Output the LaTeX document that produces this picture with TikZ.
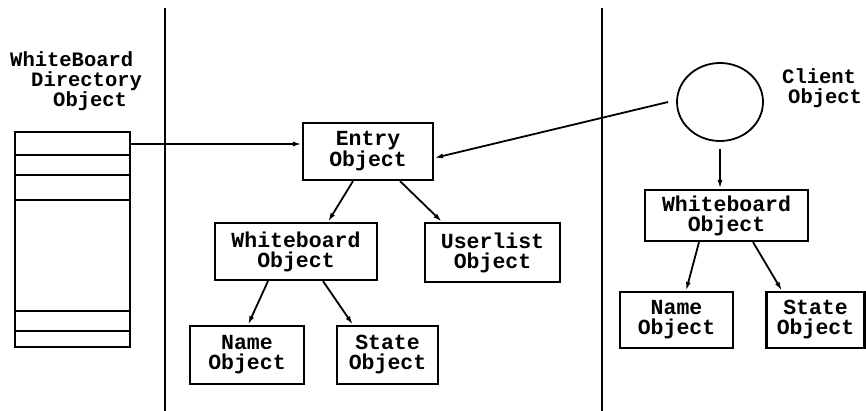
\documentclass[tikz,border=0pt]{standalone}
\usepackage{fontspec}
\newfontfamily\typewr{Liberation Mono}
\newcommand\objfont{\typewr\bfseries\fontsize{21.5}{20}\selectfont}
\newcommand\lblfont{\typewr\bfseries\fontsize{20.5}{20}\selectfont}
\usetikzlibrary{positioning,arrows.meta,shapes.geometric}

\tikzset{
  obj/.style={draw, line width=2.2pt, align=center, inner sep=0pt,
    font=\objfont, minimum height=57pt},
  lbl/.style={inner sep=0pt, anchor=base west, font=\lblfont,
    text height=13pt, text depth=2pt},
  link/.style={line width=1.8pt, -{Latex[length=9pt,width=5pt]}},
  wall/.style={line width=2.2pt}
}

\begin{document}
\begin{tikzpicture}[x=1pt,y=-1pt]

  \useasboundingbox (0,0) rectangle (866,411);

  % Walls

  \draw[wall] (165,8) -- (165,411);
  \draw[wall] (602,8) -- (602,411);

  % Directory

  \node[draw, line width=2.2pt, minimum width=115pt, minimum height=215pt,
    inner sep=0pt] (dir) at (72.5,239.5) {};
  \foreach \y in {155,175,200,311,331}
    \draw[line width=2.2pt] (dir.west |- 0,\y) -- (dir.east |- 0,\y);

  \node[lbl] (dir_t1) at (10,67) {WhiteBoard};
  \node[lbl] (dir_t2) at (31,87) {Directory};
  \node[lbl] (dir_t3) at (53,107) {Object};

  % Nodes

  \node[obj, minimum width=130pt] (entry) at (368,151.5) {Entry\\Object};
  \node[obj, minimum width=162pt] (wb_m) at (296,251.5) {Whiteboard\\Object};
  \node[obj, minimum width=135pt, minimum height=59pt] (users) at (492.5,252.5) {Userlist\\Object};
  \node[obj, minimum width=114pt, minimum height=58pt] (name_m) at (247,355) {Name\\Object};
  \node[obj, minimum width=101pt, minimum height=58pt] (state_m) at (387.5,355) {State\\Object};

  \node[draw, ellipse, line width=1.8pt, minimum width=86pt, minimum height=78pt]
    (client) at (720,102) {};
  \node[lbl] (client_t1) at (782,84) {Client};
  \node[lbl] (client_t2) at (788,104) {Object};

  \node[obj, minimum width=163pt, minimum height=51pt] (wb_c) at (726.5,215.5) {Whiteboard\\Object};
  \node[obj, minimum width=113pt, minimum height=56pt] (name_c) at (676.5,320) {Name\\Object};
  \node[obj, minimum width=98pt, minimum height=56pt] (state_c) at (815.5,320) {State\\Object};

  % Edges

  \draw[link] (dir.east |- 0,144) -- (entry.west |- 0,144) ; %
  \draw[link] ([xshift=-8pt]client.west) -- ([yshift=-6.5pt]entry.east) ; %
  \draw[link] ([xshift=-15pt]entry.south) -- ([xshift=32pt]wb_m.north) ; %
  \draw[link] ([xshift=32pt]entry.south) -- ([xshift=-50.5pt]users.north) ; %
  \draw[link] ([xshift=-28pt]wb_m.south) -- ([xshift=1pt]name_m.north) ; %
  \draw[link] ([xshift=27pt]wb_m.south) -- ([xshift=-34.5pt]state_m.north) ; %

  \draw[link, shorten <=7pt] (client.south) -- ([xshift=-6.5pt]wb_c.north) ; %
  \draw[link] ([xshift=-27.5pt]wb_c.south) -- ([xshift=9.5pt]name_c.north) ; %
  \draw[link] ([xshift=26.5pt]wb_c.south) -- ([xshift=-33.5pt]state_c.north) ; %

\end{tikzpicture}
\end{document}
